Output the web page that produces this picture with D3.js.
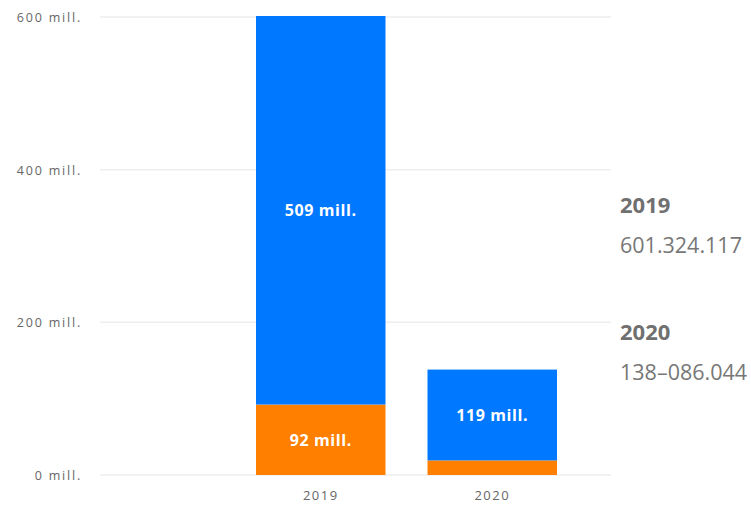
<!DOCTYPE html>
<html lang="en">

<head>
    <meta charset="UTF-8">
    <title>Stacked columns 2019 / 2020</title>
    <script src="https://d3js.org/d3.v7.min.js"></script>
    <style>
        body { margin: 0; background: #fff; }
        text { font-family: "Open Sans", "DejaVu Sans", sans-serif; }
    </style>
</head>

<body>
    <svg width="751" height="505"></svg>
    <script>
        // data (values in millions)
        const years = ["2019", "2020"];
        const orangeVals = [92.3, 19.1];
        const blueVals = [509.0, 119.0];
        const barLabelsBlue = ["509 mill.", "119 mill."];
        const barLabelsOrange = ["92 mill.", ""];
        const yTicks = [0, 200, 400, 600];
        const totalYears = ["2019", "2020"];
        const totalTexts = ["601.324.117", "138–086.044"];

        const svg = d3.select("svg");

        const x = d3.scaleBand().domain(years).range([256, 557])
            .paddingInner(0.245).paddingOuter(0);
        const y = d3.scaleLinear().domain([0, 600]).range([475, 17]);

        // grid lines + tick labels
        svg.selectAll(".grid").data(yTicks).enter().append("line")
            .attr("x1", 100).attr("x2", 611)
            .attr("y1", d => y(d)).attr("y2", d => y(d))
            .attr("stroke", "#eeeeee").attr("stroke-width", 1.5);

        svg.selectAll(".ytick").data(yTicks).enter().append("text")
            .attr("x", 82).attr("y", d => y(d) + 5)
            .attr("text-anchor", "end")
            .attr("font-size", 12.5).attr("letter-spacing", 1.8).attr("fill", "#666")
            .text(d => d + " mill.");

        // stacked bars
        svg.selectAll(".orange").data(years).enter().append("rect")
            .attr("x", d => x(d)).attr("width", x.bandwidth())
            .attr("y", (d, i) => y(orangeVals[i]))
            .attr("height", (d, i) => y(0) - y(orangeVals[i]))
            .attr("fill", "#ff8000");

        svg.selectAll(".blue").data(years).enter().append("rect")
            .attr("x", d => x(d)).attr("width", x.bandwidth())
            .attr("y", (d, i) => y(orangeVals[i] + blueVals[i]))
            .attr("height", (d, i) => y(orangeVals[i]) - y(orangeVals[i] + blueVals[i]))
            .attr("fill", "#0078ff");

        // labels inside bars
        svg.selectAll(".lblBlue").data(years).enter().append("text")
            .attr("x", d => x(d) + x.bandwidth() / 2)
            .attr("y", (d, i) => y(orangeVals[i] + blueVals[i] / 2) + 6)
            .attr("text-anchor", "middle")
            .attr("font-size", 16).attr("font-weight", "bold").attr("letter-spacing", 0.6)
            .attr("fill", "#fff")
            .text((d, i) => barLabelsBlue[i]);

        svg.selectAll(".lblOrange").data(years).enter().append("text")
            .attr("x", d => x(d) + x.bandwidth() / 2)
            .attr("y", (d, i) => y(orangeVals[i] / 2) + 6)
            .attr("text-anchor", "middle")
            .attr("font-size", 16).attr("font-weight", "bold").attr("letter-spacing", 0.6)
            .attr("fill", "#fff")
            .text((d, i) => barLabelsOrange[i]);

        // x axis labels
        svg.selectAll(".xtick").data(years).enter().append("text")
            .attr("x", d => x(d) + x.bandwidth() / 2)
            .attr("y", 500)
            .attr("text-anchor", "middle")
            .attr("font-size", 13).attr("letter-spacing", 1.5).attr("fill", "#666")
            .text(d => d);

        // totals on the right
        totalYears.forEach((yr, i) => {
            const top = 213 + i * 127;
            svg.append("text")
                .attr("x", 620).attr("y", top)
                .attr("font-size", 22).attr("font-weight", "bold").attr("fill", "#707070")
                .text(yr);
            svg.append("text")
                .attr("x", 620).attr("y", top + 40)
                .attr("font-size", 21.5).attr("fill", "#777")
                .text(totalTexts[i]);
        });
    </script>
</body>

</html>
